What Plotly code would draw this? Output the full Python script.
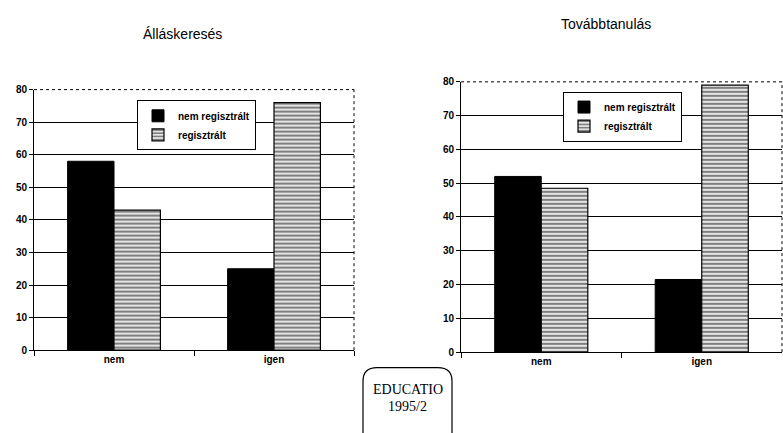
import plotly.graph_objects as go

categories = ["nem", "igen"]
series_names = ["nem regisztrált", "regisztrált"]
allas_nem_reg = [58, 25]
allas_reg = [43, 76]
tovabb_nem_reg = [52, 21.5]
tovabb_reg = [48.5, 79]
y_ticks = [0, 10, 20, 30, 40, 50, 60, 70, 80]
titles = ["Álláskeresés", "Továbbtanulás"]

W, H = 783, 433
FONT = "Arial, Liberation Sans, sans-serif"
NARROW = "Liberation Sans Narrow, Arial Narrow, Liberation Sans, sans-serif"

def px_x(v):
    return v / W

def px_y(v):
    return 1 - v / H

fig = go.Figure()

solid = dict(color="black", line=dict(color="black", width=1))
striped = dict(color="white", line=dict(color="black", width=1.2),
               pattern=dict(shape="-", fgcolor="black", bgcolor="white", size=4, solidity=0.6))

fig.add_trace(go.Bar(x=categories, y=allas_nem_reg, name=series_names[0], marker=solid,
                     xaxis="x", yaxis="y", legend="legend"))
fig.add_trace(go.Bar(x=categories, y=allas_reg, name=series_names[1], marker=striped,
                     xaxis="x", yaxis="y", legend="legend"))
fig.add_trace(go.Bar(x=categories, y=tovabb_nem_reg, name=series_names[0], marker=solid,
                     xaxis="x2", yaxis="y2", legend="legend2"))
fig.add_trace(go.Bar(x=categories, y=tovabb_reg, name=series_names[1], marker=striped,
                     xaxis="x2", yaxis="y2", legend="legend2"))

dom = {
    "x": [px_x(34), px_x(354)], "y": [px_y(354), px_y(86)],
    "x2": [px_x(461), px_x(782)], "y2": [px_y(356), px_y(78)],
}

xax = dict(showgrid=False, showline=True, linecolor="black", linewidth=1,
           ticks="outside", tickson="boundaries", ticklen=5, tickcolor="black",
           tickfont=dict(family=NARROW, size=10, color="black", weight="bold"),
           fixedrange=True)
yax = dict(range=[0, 80], tickvals=y_ticks, showgrid=True, gridcolor="black", gridwidth=1,
           showline=True, linecolor="black", linewidth=1, ticks="outside", ticklen=4,
           tickcolor="black", zeroline=False,
           tickfont=dict(family=FONT, size=10, color="black", weight="bold"))

legend_common = dict(xanchor="left", yanchor="top",
                     bgcolor="white", bordercolor="black", borderwidth=1,
                     font=dict(family=NARROW, size=10, color="black", weight="bold"),
                     itemwidth=30, tracegroupgap=0, traceorder="normal")

fig.update_layout(
    width=W, height=H, margin=dict(l=0, r=0, t=0, b=0),
    paper_bgcolor="white", plot_bgcolor="white",
    barmode="group", bargap=0.42, bargroupgap=0,
    xaxis=dict(xax, domain=dom["x"], anchor="y"),
    yaxis=dict(yax, domain=dom["y"], anchor="x"),
    xaxis2=dict(xax, domain=dom["x2"], anchor="y2"),
    yaxis2=dict(yax, domain=dom["y2"], anchor="x2"),
    legend=dict(legend_common, x=px_x(137), y=px_y(97)),
    legend2=dict(legend_common, x=px_x(563), y=px_y(88)),
    showlegend=True,
)

ann_common = dict(xref="paper", yref="paper", showarrow=False,
                  xanchor="center", yanchor="middle")

# titles
fig.add_annotation(ann_common, text=titles[0], x=px_x(182), y=px_y(29),
                   font=dict(family=FONT, size=14, color="black"))
fig.add_annotation(ann_common, text=titles[1], x=px_x(606), y=px_y(19),
                   font=dict(family=FONT, size=14, color="black"))

# dotted borders on top/right
for xr, yr in (("x domain", "y domain"), ("x2 domain", "y2 domain")):
    fig.add_shape(type="line", xref=xr, yref=yr, x0=0, x1=1, y0=1, y1=1,
                  line=dict(color="black", width=1, dash="dot"))
    fig.add_shape(type="line", xref=xr, yref=yr, x0=1, x1=1, y0=0, y1=1,
                  line=dict(color="black", width=1, dash="dot"))

# EDUCATIO stamp (bottom runs off the page as in the scan)
x0, x1 = px_x(363), px_x(452)
y1, y0 = px_y(372), px_y(470)
rx, ry = 14 / W, 14 / H
path = (f"M {x0+rx},{y1} L {x1-rx},{y1} Q {x1},{y1} {x1},{y1-ry} "
        f"L {x1},{y0+ry} Q {x1},{y0} {x1-rx},{y0} L {x0+rx},{y0} "
        f"Q {x0},{y0} {x0},{y0+ry} L {x0},{y1-ry} Q {x0},{y1} {x0+rx},{y1} Z")
fig.add_shape(type="path", path=path, xref="paper", yref="paper",
              line=dict(color="black", width=1.2))
fig.add_annotation(ann_common, text="EDUCATIO", x=px_x(408), y=px_y(394),
                   font=dict(family="Liberation Serif, serif", size=14, color="black"))
fig.add_annotation(ann_common, text="1995/2", x=px_x(408), y=px_y(412),
                   font=dict(family="Liberation Serif, serif", size=14, color="black"))

fig.write_html("out.html", config={"displayModeBar": False},
               post_script="document.body.style.margin='0';document.body.style.overflow='hidden';")
